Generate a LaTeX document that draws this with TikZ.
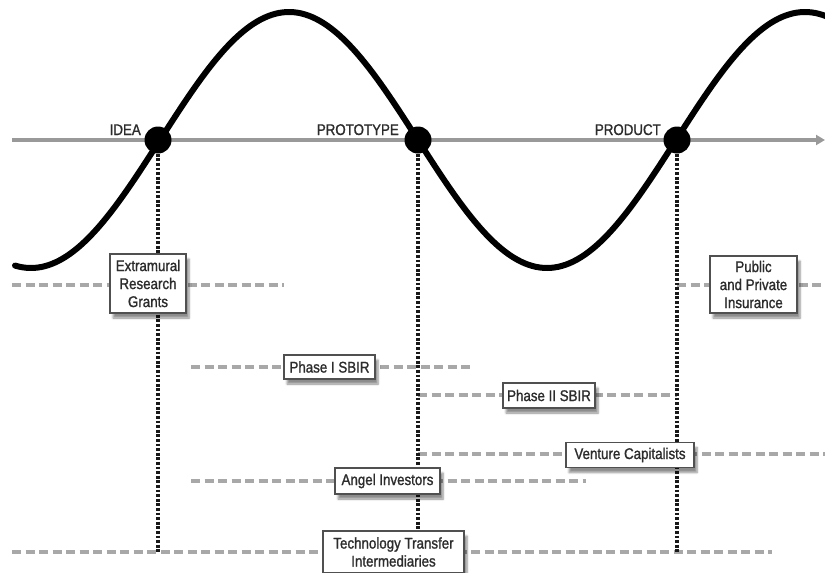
\documentclass[tikz,border=0pt]{standalone}
\usepackage{fontspec}
\setmainfont{Liberation Sans}[FakeStretch=0.86, FakeBold=1.2]
\usetikzlibrary{arrows.meta,shadows.blur}
\definecolor{inkgray}{HTML}{2C2C2C}
\definecolor{axisgray}{HTML}{999999}
\definecolor{dashgray}{HTML}{A8A8A8}
\definecolor{framegray}{HTML}{505050}
\tikzset{
  labelfont/.style={font=\fontsize{15.5}{18}\selectfont, text=inkgray},
  stagelabel/.style={labelfont, anchor=base east, inner sep=0pt},
  stagedot/.style={circle, fill=black, minimum size=27pt, inner sep=0pt},
  fundbox/.style={labelfont, draw=framegray, line width=1.3pt, fill=white,
    align=center, inner sep=0pt,
    blur shadow={shadow xshift=3pt, shadow yshift=-5pt, shadow blur steps=6,
      shadow opacity=45}},
  fundline/.style={draw=dashgray, line width=3.6pt, dash pattern=on 9pt off 4.5pt},
  stageline/.style={draw=black!90, line width=4pt, dash pattern=on 2.8pt off 1.8pt},
  axisline/.style={draw=axisgray, line width=4pt, -{Triangle[length=9pt,width=10pt]}},
  cycle/.style={draw=black, line width=6pt, line cap=round}
}
\begin{document}
\begin{tikzpicture}[x=1pt, y=-1pt]
\useasboundingbox (0,0) rectangle (825,573);

% stage axis with the development cycle
\coordinate (axisstart) at (12,140);
\coordinate (axisend) at (825,140);
\draw[axisline] (axisstart) -- (axisend);
\draw[cycle] plot[domain=15:830, samples=220, smooth]
  (\x, {140 - 128*sin((\x-160)/516*360)});

% stage markers
\node[stagedot] (idea) at (158,140) {};
\node[stagedot] (proto) at (418,140) {};
\node[stagedot] (product) at (677,140) {};
\node[stagelabel] (idealbl) at (141,135) {IDEA};
\node[stagelabel] (protolbl) at (399,135) {PROTOTYPE};
\node[stagelabel] (productlbl) at (661,135) {PRODUCT};

% ends of the stage drop lines
\coordinate (ideaend) at (158,552);
\coordinate (protoend) at (418,531);
\coordinate (productend) at (677,552);

% extents of each funding source
\coordinate (grantsL) at (12,285);   \coordinate (grantsR) at (284,285);
\coordinate (insL) at (677,285);     \coordinate (insR) at (825,285);
\coordinate (sbir1L) at (191,367);   \coordinate (sbir1R) at (470,367);
\coordinate (sbir2L) at (418,395);   \coordinate (sbir2R) at (677,395);
\coordinate (ventL) at (418,454);    \coordinate (ventR) at (825,454);
\coordinate (angelL) at (191,481);   \coordinate (angelR) at (586,481);
\coordinate (techL) at (12,552);     \coordinate (techR) at (772,552);

\draw[fundline] (grantsL) -- (grantsR);
\draw[fundline] (insL) -- (insR);
\draw[fundline] (sbir1L) -- (sbir1R);
\draw[fundline] (sbir2L) -- (sbir2R);
\draw[fundline] (ventL) -- (ventR);
\draw[fundline] (angelL) -- (angelR);
\draw[fundline] (techL) -- (techR);

\draw[stageline] (idea) -- (ideaend);
\draw[stageline] (proto) -- (protoend);
\draw[stageline] (product) -- (productend);

% funding sources
\node[fundbox, minimum width=76pt, minimum height=59pt] (grants) at (148,283.5)
  {Extramural\\Research\\Grants};
\node[fundbox, minimum width=87pt, minimum height=57pt] (insurance) at (753.5,284.5)
  {Public\\and Private\\Insurance};
\node[fundbox, minimum width=91pt, minimum height=24pt] (sbir1) at (329.5,367)
  {Phase I SBIR};
\node[fundbox, minimum width=92pt, minimum height=25pt] (sbir2) at (549,395.5)
  {Phase II SBIR};
\node[fundbox, minimum width=128pt, minimum height=25pt] (venture) at (630,455)
  {Venture Capitalists};
\node[fundbox, minimum width=105pt, minimum height=26pt] (angel) at (387.5,481)
  {Angel Investors};
\node[fundbox, minimum width=141pt, minimum height=42pt] (techtransfer) at (393.5,552)
  {Technology Transfer\\Intermediaries};
\end{tikzpicture}
\end{document}
